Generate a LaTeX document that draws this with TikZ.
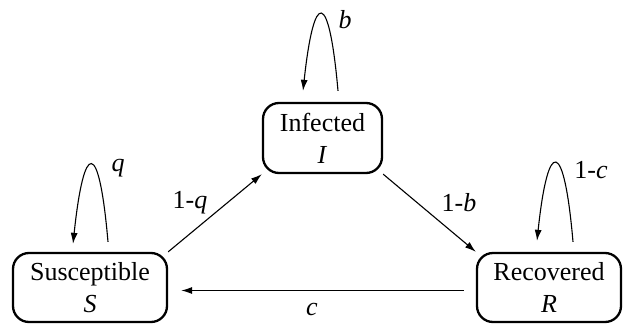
\documentclass[tikz,border=0pt]{standalone}
\usepackage{fontspec}
\setmainfont{Liberation Serif}
\usetikzlibrary{arrows.meta}
\begin{document}
\begin{tikzpicture}[x=1pt,y=-1pt,
  state/.style={draw,line width=2.3pt,rounded corners=16pt,align=center,inner sep=0pt,
    font=\fontsize{26}{33}\selectfont},
  arr/.style={line width=1.1pt,-{Latex[length=11pt,width=7pt]}},
  lbl/.style={font=\fontsize{26}{28}\selectfont,inner sep=0pt}]
\useasboundingbox (0,0) rectangle (623,324);
\node[state,minimum width=154pt,minimum height=69pt] (S) at (90,287.5) {Susceptible\\[-1pt]\textit{S}};
\node[state,minimum width=119pt,minimum height=70pt] (I) at (322.5,138) {Infected\\[-1pt]\textit{I}};
\node[state,minimum width=144pt,minimum height=69pt] (R) at (549,287.5) {Recovered\\[-1pt]\textit{R}};
\draw[arr] (S.north east) -- (I.south west);
\draw[arr] (I.south east) -- (R.north west);
\draw[arr] ([shift={(-12,3)}]R.west) -- ([shift={(13,3)}]S.east);
\draw[arr] ([shift={(18,-10)}]S.north) .. controls +(-9,-104) and +(11,-104) .. ([shift={(-17,-8)}]S.north);
\draw[arr] ([shift={(15.5,-11)}]I.north) .. controls +(-9,-102) and +(11,-102) .. ([shift={(-19.5,-11)}]I.north);
\draw[arr] ([shift={(24,-10)}]R.north) .. controls +(-9,-104) and +(11,-104) .. ([shift={(-12,-11)}]R.north);
\node[lbl] (lq) at (118,168) {\textit{q}};
\node[lbl] (lb) at (345,20) {\textit{b}};
\node[lbl] (lc1) at (591,170) {1-\textit{c}};
\node[lbl] (lq1) at (190,203) {1-\textit{q}};
\node[lbl] (lb1) at (459,203) {1-\textit{b}};
\node[lbl] (lc) at (312,309) {\textit{c}};
\end{tikzpicture}
\end{document}
